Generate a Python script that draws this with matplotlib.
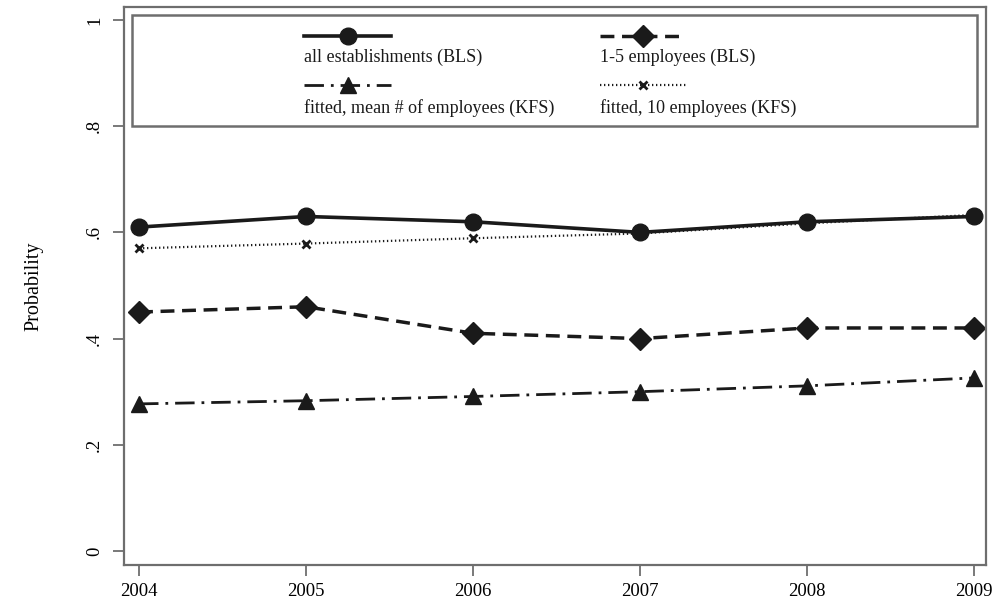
import matplotlib
matplotlib.use("Agg")
import matplotlib.pyplot as plt
from matplotlib.lines import Line2D
from matplotlib.patches import Rectangle

years = [2004, 2005, 2006, 2007, 2008, 2009]
all_estab = [0.61, 0.63, 0.62, 0.60, 0.62, 0.63]
small_estab = [0.45, 0.46, 0.41, 0.40, 0.42, 0.42]
fitted_mean = [0.277, 0.283, 0.291, 0.300, 0.311, 0.326]
fitted_10 = [0.570, 0.579, 0.589, 0.598, 0.617, 0.633]

labels = ["all establishments (BLS)", "1-5 employees (BLS)",
          "fitted, mean # of employees (KFS)", "fitted, 10 employees (KFS)"]
yticks = [0, 0.2, 0.4, 0.6, 0.8, 1.0]
yticklabels = ["0", ".2", ".4", ".6", ".8", "1"]

plt.rcParams['font.family'] = ['Liberation Serif', 'DejaVu Serif']
ink = "#1a1a1a"
gray = "#6e6e6e"

fig = plt.figure(figsize=(9.93, 6.05), dpi=100)
ax = fig.add_axes([124/993, 1-565/605, (986-124)/993, (565-7)/605])

styles = [
    dict(linestyle='-', marker='o', markersize=12, linewidth=2.6),
    dict(linestyle=(0, (4, 2.2)), marker='D', markersize=11, linewidth=2.5),
    dict(linestyle=(0, (7, 2.5, 1, 2.5)), marker='^', markersize=12, linewidth=2.0),
    dict(linestyle=(0, (0.6, 1.2)), marker='x', markersize=6, markeredgewidth=2.0, linewidth=1.6),
]
series = [all_estab, small_estab, fitted_mean, fitted_10]
for vals, st in zip(series, styles):
    ax.plot(years, vals, color=ink, markerfacecolor=ink, markeredgecolor=ink, **st)

ax.set_xlim(2003.91, 2009.07)
ax.set_ylim(-0.0264, 1.0245)
ax.set_xticks(years)
ax.set_xticklabels([str(y) for y in years], fontsize=13.5)
ax.set_yticks(yticks)
ax.set_yticklabels(yticklabels, fontsize=13.5, rotation=90, va='center')
ax.tick_params(axis='both', color=gray, length=8, width=1.3)
ax.tick_params(axis='x', pad=5)
ax.tick_params(axis='y', pad=7)
for s in ax.spines.values():
    s.set_color(gray)
    s.set_linewidth(1.6)
ax.set_ylabel("Probability", fontsize=14.5, labelpad=31)

# legend box drawn in axes coordinates
def fx(px):
    return (px - 124) / (986 - 124)
def fy(py):
    return (565 - py) / (565 - 7)

ax.add_patch(Rectangle((fx(132), fy(126)), fx(977) - fx(132), fy(15) - fy(126),
                       transform=ax.transAxes, fill=True, facecolor='white',
                       edgecolor=gray, linewidth=1.8, zorder=5))
key_pos = [(304, 391, 36, 57), (600, 686, 36, 57), (304, 391, 85, 108), (600, 686, 85, 108)]
for (x0, x1, ky, ty), st, lab in zip(key_pos, styles, labels):
    ax.add_line(Line2D([fx(x0), fx(x1)], [fy(ky), fy(ky)], transform=ax.transAxes,
                       color=ink, zorder=6, **{k: v for k, v in st.items() if k not in ('marker', 'markersize', 'markeredgewidth')}))
    mk = {k: v for k, v in st.items() if k in ('marker', 'markersize', 'markeredgewidth')}
    ax.add_line(Line2D([(fx(x0) + fx(x1)) / 2], [fy(ky)],
                       transform=ax.transAxes, linestyle='none', color=ink,
                       markerfacecolor=ink, markeredgecolor=ink, zorder=7, **mk))
    ax.text(fx(x0), fy(ty), lab, transform=ax.transAxes, fontsize=13,
            va='center', ha='left', color=ink, zorder=7)

fig.savefig("out.png", dpi=100)
